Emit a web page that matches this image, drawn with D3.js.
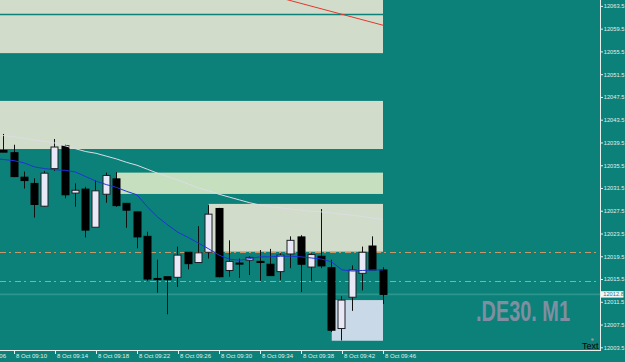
<!DOCTYPE html>
<html><head><meta charset="utf-8">
<script src="https://cdn.jsdelivr.net/npm/d3@7"></script>
<style>
html,body{margin:0;padding:0;background:#0c8179;overflow:hidden}
svg{display:block}
.ax text{font-family:"Liberation Sans",Arial,sans-serif;font-size:6px;fill:#e4eeec}
</style></head>
<body><svg id="c" width="625" height="362"></svg>
<script>
// ---- data ----
const times  = ["09:09","09:10","09:11","09:12","09:13","09:14","09:15","09:16","09:17","09:18","09:19","09:20","09:21","09:22","09:23","09:24","09:25","09:26","09:27","09:28","09:29","09:30","09:31","09:32","09:33","09:34","09:35","09:36","09:37","09:38","09:39","09:40","09:41","09:42","09:43","09:44","09:45","09:46"];
const opens  = [12038.1,12037.7,12033.4,12032.3,12028.3,12034.9,12038.9,12030.6,12031.3,12024.6,12030.4,12033.1,12028.8,12027.3,12023.0,12015.6,12015.9,12015.8,12020.2,12018.4,12020.2,12027.9,12017.0,12018.3,12018.8,12018.6,12018.1,12016.8,12019.9,12022.9,12017.6,12019.5,12017.5,12006.8,12012.3,12016.5,12021.3,12017.1];
const highs  = [12041.0,12039.1,12034.4,12033.2,12034.5,12040.1,12039.1,12032.3,12031.7,12032.8,12034.2,12034.3,12028.8,12027.3,12023.8,12018.9,12015.9,12021.2,12020.2,12024.8,12028.5,12028.0,12022.3,12019.1,12019.5,12020.6,12020.8,12020.0,12023.0,12023.2,12020.0,12027.8,12018.9,12012.5,12017.9,12021.2,12023.0,12017.6];
const lows   = [12037.8,12033.4,12031.4,12026.3,12028.2,12034.5,12029.7,12028.2,12022.8,12024.6,12028.9,12028.2,12024.5,12020.9,12015.2,12013.1,12009.3,12014.1,12017.2,12018.4,12019.1,12015.8,12015.9,12015.7,12016.2,12015.2,12016.1,12015.3,12017.4,12013.2,12015.2,12017.4,12006.2,12004.7,12009.9,12013.5,12017.1,12011.1];
const closes = [12037.8,12033.5,12032.8,12028.6,12034.1,12038.7,12030.3,12031.1,12024.1,12031.0,12033.7,12028.4,12027.6,12022.9,12015.5,12015.4,12015.4,12019.7,12018.2,12020.1,12026.9,12015.9,12018.6,12018.2,12019.3,12018.4,12016.1,12019.7,12022.3,12018.1,12019.8,12017.8,12006.5,12011.8,12017.1,12020.2,12017.1,12012.8];

const maTimes = ["09:08"].concat(times);
const fastMA = [12036.7,12036.5,12036.3,12035.9,12035.2,12034.9,12034.7,12034.6,12034.3,12033.5,12032.7,12032.1,12031.6,12030.9,12030.3,12028.2,12026.4,12025.0,12023.7,12022.8,12021.8,12020.8,12019.7,12019.0,12018.8,12019.1,12019.4,12019.4,12019.5,12019.5,12019.4,12019.2,12019.0,12018.5,12017.1,12016.9,12017.0,12017.1,12017.1];
const slowMA = [12041.0,12040.7,12040.5,12040.2,12039.9,12039.7,12039.4,12038.9,12038.4,12037.9,12037.6,12037.1,12036.6,12036.0,12035.5,12034.8,12034.1,12033.5,12032.9,12032.2,12031.5,12031.0,12030.4,12029.9,12029.4,12028.9,12028.5,12028.2,12028.0,12027.8,12027.6,12027.4,12027.3,12027.1,12026.9,12026.7,12026.5,12026.2,12026.0];

// zones: [startTime, endTime, topPrice, bottomPrice]
const zoneStart = ["09:00","09:00","09:20","09:29","09:41"];
const zoneEnd   = ["09:46","09:46","09:46","09:46","09:46"];
const zoneTop   = [12066.0,12046.8,12034.2,12028.7,12011.8];
const zoneBot   = [12055.2,12038.35,12030.45,12020.3,12004.65];
const zoneKind  = ["grey","grey","green","grey","blue"];
const splitLinePrice = 12062.0;
const levelPrices = [12020.2,12015.1];
const bidPrice = 12012.8;
const trendTimes = ["09:36","09:46"];
const trendPrices = [12064.9,12060.1];

const yTicks = [12063.5,12059.5,12055.5,12051.5,12047.5,12043.5,12039.5,12035.5,12031.5,12027.5,12023.5,12019.5,12015.5,12011.5,12007.5,12003.5];
const xTickTimes = ["09:06","09:10","09:14","09:18","09:22","09:26","09:30","09:34","09:38","09:42","09:46"];
const dateLabel = "8 Oct";
const symbolText = ".DE30. M1";

// ---- drawing ----
const W=625,H=362, plotR=600, plotB=350.5;
const svg=d3.select("#c");
const BG="#0c8179";
svg.append("rect").attr("width",W).attr("height",H).attr("fill",BG);

const mins = t => { const [h,m]=t.split(":").map(Number); return (h-9)*60+m; };
const x = d3.scaleLinear().domain([10,46]).range([14,383]);
const y = d3.scaleLinear().domain([12003.5,12063.5]).range([347.3,5.9]);

svg.append("clipPath").attr("id","pc").append("rect").attr("x",0).attr("y",0).attr("width",plotR).attr("height",plotB);
const g = svg.append("g").attr("clip-path","url(#pc)");

const zoneFill={grey:"#d1ddca",green:"#c6e0bf",blue:"#cad9e7"};
zoneTop.forEach((t,i)=>{
  const x0=x(mins(zoneStart[i])), x1=x(mins(zoneEnd[i]));
  g.append("rect").attr("x",x0).attr("y",y(t)).attr("width",x1-x0).attr("height",y(zoneBot[i])-y(t))
   .attr("fill",zoneFill[zoneKind[i]]);
});
// split line in top zone
g.append("line").attr("x1",x(mins(zoneStart[0]))).attr("x2",x(mins(zoneEnd[0])))
 .attr("y1",y(splitLinePrice)).attr("y2",y(splitLinePrice)).attr("stroke",BG).attr("stroke-width",1.5);

// bid line
g.append("line").attr("x1",0).attr("x2",plotR).attr("y1",y(bidPrice)).attr("y2",y(bidPrice))
 .attr("stroke","#2c958c").attr("stroke-width",1.6);

// level lines
levelPrices.forEach(p=>{
  const yy=Math.round(y(p))+0.5;
  g.append("line").attr("x1",0).attr("x2",plotR).attr("y1",yy).attr("y2",yy)
   .attr("stroke","#c79868").attr("stroke-width",1).attr("stroke-dasharray","6,3,2,4");
});

// trend line
g.append("line").attr("x1",x(mins(trendTimes[0]))).attr("y1",y(trendPrices[0]))
 .attr("x2",x(mins(trendTimes[1]))).attr("y2",y(trendPrices[1]))
 .attr("stroke","#e8352e").attr("stroke-width",1);

// candles
times.forEach((t,i)=>{
  const cx=Math.floor(x(mins(t)))+0.5;
  const up=closes[i]>=opens[i];
  g.append("line").attr("x1",cx).attr("x2",cx).attr("y1",y(highs[i])).attr("y2",y(lows[i]))
   .attr("stroke","#111").attr("stroke-width",1);
  const top=y(Math.max(opens[i],closes[i])), bot=y(Math.min(opens[i],closes[i]));
  g.append("rect").attr("x",cx-3.5).attr("y",top).attr("width",7).attr("height",Math.max(1,bot-top))
   .attr("fill",up?"#e8e8f6":"#000").attr("stroke",up?"#1e1e24":"#000").attr("stroke-width",1);
});

// MAs
const line=d3.line().x((d,i)=>x(mins(maTimes[i]))).y(d=>y(d)).curve(d3.curveLinear);
g.append("path").attr("d",line(slowMA)).attr("fill","none").attr("stroke","#dcdce4").attr("stroke-width",1);
g.append("path").attr("d",line(fastMA)).attr("fill","none").attr("stroke","#1f33d6").attr("stroke-width",1);

// watermark
svg.append("text").attr("x",476).attr("y",321).text(symbolText)
 .attr("font-family","Liberation Sans, Arial, sans-serif").attr("font-weight","bold").attr("font-size",29)
 .attr("textLength",94).attr("lengthAdjust","spacingAndGlyphs").attr("fill","#7f8fa1");

// axes
const yAx=svg.append("g").attr("class","ax").attr("transform",`translate(${plotR+0.5},0)`)
 .call(d3.axisRight(y).tickValues(yTicks).tickSize(2.5).tickPadding(0.8).tickFormat(d3.format(".1f")));
yAx.select(".domain").remove();
yAx.selectAll("line").attr("stroke","#e4eeec");
yAx.selectAll("text").attr("textLength",20.5).attr("lengthAdjust","spacingAndGlyphs");

const xAx=svg.append("g").attr("class","ax").attr("transform",`translate(0,${plotB})`)
 .call(d3.axisBottom(x).tickValues(xTickTimes.map(mins)).tickSize(3.5)
   .tickFormat(m=>`${dateLabel} 09:${String(m).padStart(2,"0")}`));
xAx.select(".domain").remove();
xAx.selectAll("line").attr("stroke","#e4eeec");
xAx.selectAll("text").attr("text-anchor","start").attr("dx",1.5).attr("y",3).attr("dy","0.71em");

svg.append("line").attr("x1",plotR+0.5).attr("x2",plotR+0.5).attr("y1",0).attr("y2",plotB+0.5).attr("stroke","#e8f0ee");
svg.append("line").attr("x1",0).attr("x2",plotR+0.5).attr("y1",plotB).attr("y2",plotB).attr("stroke","#e8f0ee");

// price label
const py=y(bidPrice);
svg.append("rect").attr("x",601).attr("y",py-3.2).attr("width",22.5).attr("height",6.4).attr("fill","#f4f8f8");
svg.append("text").attr("x",603.3).attr("y",py).attr("dy","0.35em").text(d3.format(".1f")(bidPrice))
 .attr("font-family","Liberation Sans, Arial, sans-serif").attr("font-size",6).attr("fill","#1a7a86")
 .attr("textLength",20.5).attr("lengthAdjust","spacingAndGlyphs");

// "Text" label
svg.append("circle").attr("cx",592.5).attr("cy",339.5).attr("r",1.3).attr("fill","#8c9a98");
svg.append("text").attr("x",598.5).attr("y",348.5).attr("text-anchor","end").text("Text")
 .attr("font-family","Liberation Sans, Arial, sans-serif").attr("font-size",9).attr("fill","#000");
</script></body></html>
